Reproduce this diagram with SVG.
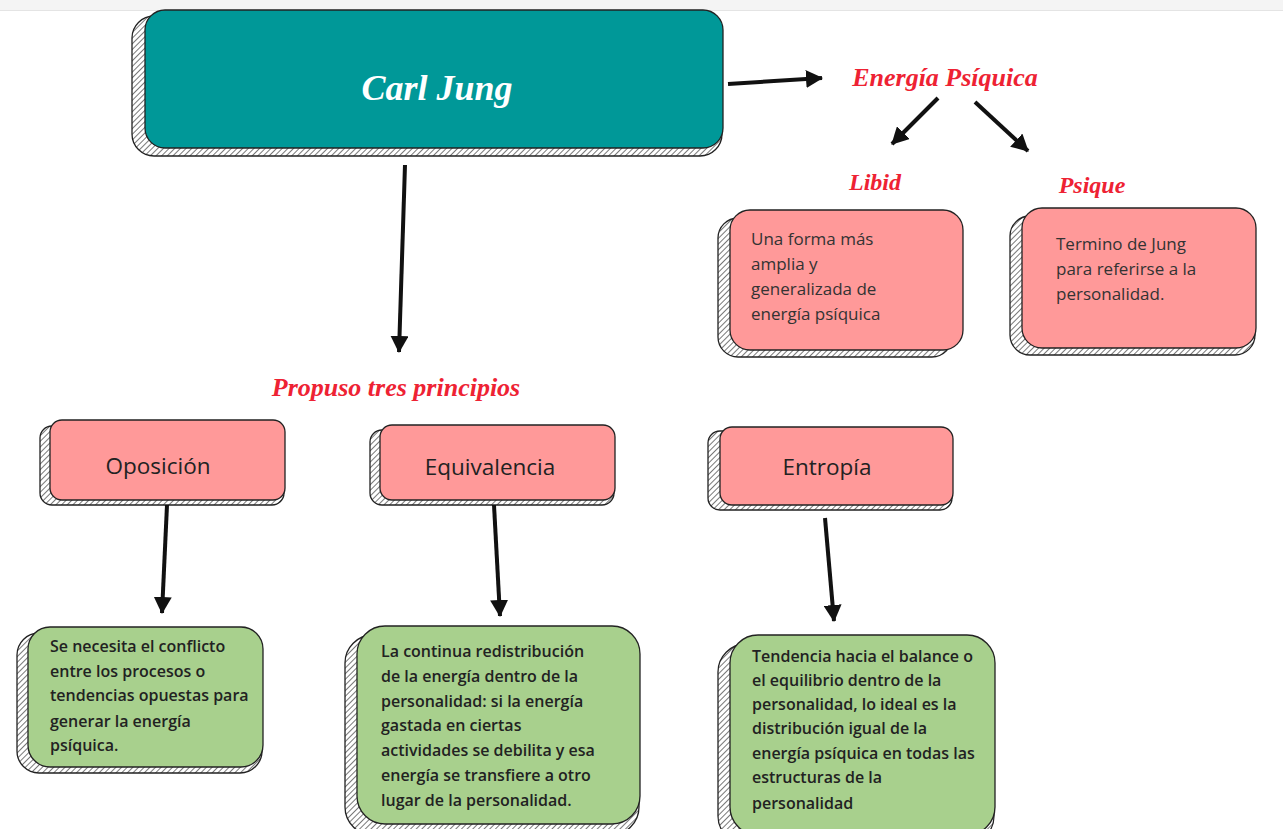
<svg xmlns="http://www.w3.org/2000/svg" width="1283" height="829" viewBox="0 0 1283 829">
<defs>
<pattern id="hatch" patternUnits="userSpaceOnUse" width="4" height="4" patternTransform="rotate(45)">
<rect width="4" height="4" fill="#ffffff"/>
<line x1="0" y1="0" x2="0" y2="4" stroke="#555" stroke-width="1.6"/>
</pattern>
<marker id="ah" markerUnits="userSpaceOnUse" markerWidth="20" markerHeight="18" refX="16" refY="9" orient="auto">
<path d="M0,0 L17,9 L0,18 Z" fill="#111"/>
</marker>
<style>
.sh{fill:url(#hatch);stroke:#222;stroke-width:1.3}
.teal{fill:#009898;stroke:#222;stroke-width:1.3}
.pink{fill:#ff9999;stroke:#222;stroke-width:1.3}
.green{fill:#a8d08d;stroke:#222;stroke-width:1.3}
.red{font-family:"Liberation Serif",serif;font-style:italic;font-weight:bold;fill:#ee2233}
.ptxt{font-family:"Open Sans",sans-serif;font-size:17px;fill:#333}
.htxt{font-family:"Open Sans",sans-serif;font-size:22.5px;fill:#222}
.gtxt{font-family:"Open Sans",sans-serif;font-size:16px;font-weight:600;fill:#222}
.conn line{stroke:#111;stroke-width:4;marker-end:url(#ah)}
</style>
</defs>
<rect x="0" y="0" width="1283" height="829" fill="#ffffff"/>
<rect x="0" y="0" width="1283" height="10" fill="#f4f4f4"/>
<line x1="0" y1="10.5" x2="1283" y2="10.5" stroke="#e4e4e4" stroke-width="1"/>

<g id="carl">
<rect class="sh" x="132" y="16" width="590" height="140" rx="22"/>
<rect class="teal" x="145" y="10" width="578" height="138" rx="20"/>
<text x="437" y="100" text-anchor="middle" font-family="Liberation Serif,serif" font-style="italic" font-weight="bold" font-size="36" fill="#ffffff">Carl Jung</text>
</g>

<g id="energia"><text class="red" x="945" y="86" text-anchor="middle" font-size="26">Energía Psíquica</text></g>
<g id="libid-label"><text class="red" x="875" y="190" text-anchor="middle" font-size="24">Libid</text></g>
<g id="psique-label"><text class="red" x="1092" y="193" text-anchor="middle" font-size="24">Psique</text></g>

<g id="libid">
<rect class="sh" x="718" y="218" width="234" height="139" rx="20"/>
<rect class="pink" x="730" y="210" width="233" height="140" rx="20"/>
<text class="ptxt" x="751" y="245">Una forma más</text>
<text class="ptxt" x="751" y="270">amplia y</text>
<text class="ptxt" x="751" y="295">generalizada de</text>
<text class="ptxt" x="751" y="320">energía psíquica</text>
</g>

<g id="psique">
<rect class="sh" x="1010" y="216" width="245" height="139" rx="20"/>
<rect class="pink" x="1022" y="208" width="234" height="140" rx="20"/>
<text class="ptxt" x="1056" y="250">Termino de Jung</text>
<text class="ptxt" x="1056" y="275">para referirse a la</text>
<text class="ptxt" x="1056" y="300">personalidad.</text>
</g>

<g id="propuso"><text class="red" x="396" y="396" text-anchor="middle" font-size="26">Propuso tres principios</text></g>

<g id="oposicion">
<rect class="sh" x="40" y="426" width="244" height="79" rx="12"/>
<rect class="pink" x="50" y="420" width="235" height="80" rx="12"/>
<text class="htxt" x="158" y="474" text-anchor="middle">Oposición</text>
</g>
<g id="equivalencia">
<rect class="sh" x="370" y="430" width="244" height="75" rx="12"/>
<rect class="pink" x="380" y="425" width="235" height="75" rx="12"/>
<text class="htxt" x="490" y="475" text-anchor="middle">Equivalencia</text>
</g>
<g id="entropia">
<rect class="sh" x="708" y="431" width="244" height="79" rx="12"/>
<rect class="pink" x="720" y="427" width="233" height="78" rx="12"/>
<text class="htxt" x="827" y="475" text-anchor="middle">Entropía</text>
</g>

<g id="g1">
<rect class="sh" x="17" y="633" width="245" height="140" rx="22"/>
<rect class="green" x="28" y="627" width="235" height="140" rx="22"/>
<text class="gtxt" x="50" y="652">Se necesita el conflicto</text>
<text class="gtxt" x="50" y="677">entre los procesos o</text>
<text class="gtxt" x="50" y="701">tendencias opuestas para</text>
<text class="gtxt" x="50" y="727">generar la energía</text>
<text class="gtxt" x="50" y="751">psíquica.</text>
</g>
<g id="g2">
<rect class="sh" x="345" y="635" width="294" height="200" rx="28"/>
<rect class="green" x="357" y="626" width="283" height="198" rx="28"/>
<text class="gtxt" x="381" y="657">La continua redistribución</text>
<text class="gtxt" x="381" y="682">de la energía dentro de la</text>
<text class="gtxt" x="381" y="707">personalidad: si la energía</text>
<text class="gtxt" x="381" y="731">gastada en ciertas</text>
<text class="gtxt" x="381" y="756">actividades se debilita y esa</text>
<text class="gtxt" x="381" y="781">energía se transfiere a otro</text>
<text class="gtxt" x="381" y="806">lugar de la personalidad.</text>
</g>
<g id="g3">
<rect class="sh" x="718" y="644" width="276" height="200" rx="28"/>
<rect class="green" x="730" y="635" width="265" height="200" rx="28"/>
<text class="gtxt" x="752" y="662">Tendencia hacia el balance o</text>
<text class="gtxt" x="752" y="686">el equilibrio dentro de la</text>
<text class="gtxt" x="752" y="710">personalidad, lo ideal es la</text>
<text class="gtxt" x="752" y="734">distribución igual de la</text>
<text class="gtxt" x="752" y="759">energía psíquica en todas las</text>
<text class="gtxt" x="752" y="783">estructuras de la</text>
<text class="gtxt" x="752" y="809">personalidad</text>
</g>

<g id="connectors" class="conn">
<line x1="728" y1="84" x2="822" y2="78"/>
<line x1="938" y1="98" x2="892" y2="144"/>
<line x1="975" y1="102" x2="1028" y2="151"/>
<line x1="405" y1="165" x2="399" y2="352"/>
<line x1="167" y1="505" x2="162" y2="613"/>
<line x1="494" y1="505" x2="500" y2="616"/>
<line x1="825" y1="518" x2="834" y2="621"/>
</g>
</svg>
